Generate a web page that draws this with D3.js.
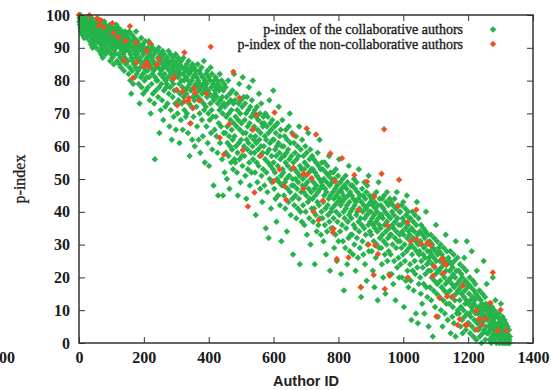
<!DOCTYPE html>
<html><head><meta charset="utf-8">
<script src="https://cdn.jsdelivr.net/npm/d3@7"></script>
<style>body{margin:0;background:#fff}</style>
</head><body>
<svg id="c" width="553" height="390"></svg>
<script>
// p-index of the collaborative authors, one value per Author ID (index = ID)
const greenP = [
100,98,99,97,100,96,98,95,99,97,94,98,96,99,95,97,93,98,96,94,99,97,95,98,93,96,99,94,97,95,
97,99,94,96,92,98,95,91,97,93,99,96,90,94,98,92,95,97,91,96,93,98,94,90,97,95,92,99,93,96,
95,92,97,89,94,98,91,96,88,93,97,90,95,87,92,96,94,89,98,91,93,97,88,95,90,94,92,96,89,93,
93,96,89,94,91,97,86,92,95,88,94,90,96,87,93,91,95,85,92,89,96,93,88,94,90,97,92,86,95,91,
91,94,88,96,85,92,90,95,87,93,84,91,89,95,86,92,94,88,90,83,93,87,95,89,91,85,94,90,86,92,
90,86,93,82,89,95,84,91,80,88,92,76,87,94,83,90,86,79,92,85,89,93,81,88,91,84,95,87,82,90,
88,92,83,89,79,91,86,73,90,84,87,81,93,78,89,85,91,82,76,88,84,90,80,86,92,83,77,89,85,81,
87,83,90,78,86,92,81,88,74,85,89,70,84,91,79,87,82,90,76,86,83,88,73,85,56,81,89,77,84,80,
85,89,80,87,75,84,90,78,64,86,82,88,71,83,79,87,74,85,89,81,68,84,77,88,82,86,72,80,85,78,
84,79,87,73,86,81,89,76,83,66,85,78,88,71,82,86,62,80,84,75,87,79,69,83,77,85,81,73,88,65,
82,86,77,84,70,81,87,74,83,79,61,85,76,82,68,86,80,73,84,78,65,82,87,75,80,71,84,77,83,69,
81,76,85,70,83,78,64,80,86,73,82,57,79,84,67,77,83,72,80,62,85,75,81,69,78,84,74,60,82,76,
79,83,72,81,66,78,85,75,80,62,77,83,70,79,58,82,74,78,84,68,76,81,63,79,73,86,71,77,55,80,
78,72,82,66,79,75,83,61,77,70,81,54,76,68,80,73,84,64,78,71,82,59,75,69,79,48,74,80,65,77,
76,81,69,78,63,75,80,58,73,45,79,67,77,71,82,61,74,78,66,72,80,56,75,70,45,77,64,73,79,52,
72,64,78,58,69,75,50,66,61,73,80,57,70,63,47,76,60,68,74,55,71,65,59,77,62,53,73,67,82,56,
63,74,55,69,60,76,66,52,71,58,45,68,73,61,79,56,65,70,49,74,62,67,57,72,54,81,64,59,75,60,
57,68,73,51,64,70,44,62,75,59,66,53,71,61,78,55,67,48,72,63,58,69,52,74,65,60,80,56,70,62,
66,58,71,52,63,39,69,61,55,72,49,65,59,68,54,76,62,57,70,47,64,60,73,51,67,43,58,66,53,69,
60,67,48,63,56,70,35,62,52,66,58,46,69,55,64,32,59,74,50,61,67,54,41,65,57,49,68,62,53,77,
55,62,47,66,52,59,44,64,57,37,60,50,67,54,45,61,72,49,58,63,42,56,65,51,31,60,48,68,53,57,
52,60,45,57,63,49,41,55,65,50,58,34,62,47,54,59,43,66,51,56,70,46,61,39,53,57,48,64,44,50,
27,55,48,61,42,53,58,45,50,63,38,56,47,52,60,41,49,57,44,66,51,24,54,40,59,46,53,37,62,48,
50,42,57,46,53,36,55,48,60,40,51,45,58,33,49,54,43,64,47,52,38,56,44,59,30,50,46,53,41,57,
44,53,37,49,56,41,47,24,52,45,39,55,48,34,51,43,58,46,36,54,42,50,62,38,47,53,33,49,40,55,
48,38,53,43,31,50,45,55,36,47,41,52,27,46,49,34,54,42,39,51,44,57,37,48,22,45,52,40,35,50,
41,49,35,46,52,38,44,29,50,42,47,33,53,40,45,25,48,37,43,51,31,46,56,39,44,34,49,42,21,47,
46,36,43,50,31,45,40,16,48,38,44,29,51,41,35,47,42,24,49,37,45,32,54,39,43,28,46,40,33,48,
38,45,33,48,41,27,44,36,50,30,42,47,35,22,43,39,49,32,40,46,26,44,37,53,34,41,29,45,38,17,
14,43,36,47,31,40,45,27,42,35,49,38,24,44,33,41,46,19,39,48,30,42,36,51,28,40,45,34,37,43,
40,33,44,28,38,42,22,36,45,31,39,17,43,35,41,26,37,46,30,40,34,13,42,38,49,29,36,44,32,39,
35,42,29,39,24,44,33,38,20,41,31,45,36,27,40,15,34,43,30,37,46,25,39,32,42,28,35,21,44,33,
38,27,43,33,21,40,36,30,42,18,35,39,25,44,32,37,13,41,29,34,46,23,38,31,42,26,36,20,40,33,
31,40,24,36,29,42,20,34,38,27,43,33,11,37,30,25,41,35,19,39,28,45,32,22,36,40,17,34,29,38,
33,24,38,19,30,7,35,27,40,22,32,37,16,29,34,25,39,21,31,9,36,28,43,23,33,6,30,38,18,27,
28,34,20,31,15,36,25,30,12,33,23,27,35,18,29,9,32,26,21,34,40,17,30,24,14,28,33,22,5,26,
25,31,17,28,22,33,13,27,20,30,24,2,29,16,26,32,19,23,11,28,21,36,25,15,31,18,27,8,22,29,
22,28,14,25,19,30,10,23,17,27,21,5,26,13,24,29,16,20,9,25,18,33,22,12,28,15,24,7,19,26,
19,25,12,22,16,28,3,20,14,24,18,8,23,11,21,27,6,17,25,13,20,2,31,15,22,9,18,26,10,16,
16,22,9,19,13,24,5,17,11,21,15,7,20,3,18,23,10,14,26,8,16,12,19,4,22,13,31,9,17,6,
12,18,6,15,9,20,3,13,8,17,11,28,5,14,10,19,2,12,16,7,13,4,18,9,15,1,11,22,6,14,
9,14,4,11,7,16,2,10,5,13,8,0,12,6,15,3,9,11,25,4,10,7,14,1,8,12,5,18,3,10,
7,11,3,9,5,12,1,8,4,10,6,0,9,2,11,5,20,7,3,8,1,10,4,6,13,2,8,0,5,9,
5,8,2,6,3,9,0,5,1,7,4,12,2,6,0,3,8,1,5,2,0,4,7,1,3,0,6,2,1,4,
3,0,5,1,2,0,4,1,0,2
];

// p-index of the non-collaborative authors: [Author ID, p-index]
const redPoints = [
[0,100],[32,99.9],[55,98.9],[68,98.4],[60,96.8],[76,96.3],[103,97.5],[157,96.6],[106,94.5],[122,93.2],
[143,92.1],[176,91.6],[219,91.3],[209,89.1],[325,88.6],[139,86.1],[178,85.5],[209,85.5],[247,86.4],[166,80.8],
[200,84.3],[216,84.3],[240,84.8],[294,81.1],[289,80.6],[301,77.2],[320,76.7],[355,77.7],[358,76.2],[339,74.7],
[325,73.7],[337,73.8],[303,72.5],[351,71.6],[343,66.9],[370,73.9],[393,76.1],[406,90.3],[434,62.6],[463,66.7],
[447,57.5],[476,82.7],[495,74.8],[548,69.5],[603,70.3],[538,65.2],[661,63.4],[702,65.4],[731,63.6],[941,65.2],
[505,58.8],[561,57.1],[775,57.8],[811,56.3],[618,53],[661,53.4],[692,51.5],[704,51.5],[718,50.2],[849,51.2],
[600,49.3],[790,49.3],[888,49.2],[634,47.8],[692,47.1],[541,45.9],[639,43.7],[752,43.4],[911,44.7],[521,41.6],
[723,40],[862,40.6],[739,37.5],[785,34.8],[783,33.7],[893,30],[913,29.7],[922,27.1],[795,25.6],[831,26.1],
[909,20.7],[869,17],[943,16.5],[933,51.6],[987,49.8],[983,41.6],[1040,40.6],[952,35.8],[1013,36.8],[1040,31.7],
[1022,31],[1055,30.2],[1075,30.7],[1085,29.7],[1119,25.8],[1124,24.6],[1132,23.8],[1095,23.4],[1124,21.3],[1092,20.5],
[958,20.5],[1014,20],[1276,21.5],[1184,17.5],[1269,12.2],[1135,14.2],[1153,14.2],[1112,13.7],[1225,9.8],[1233,7.3],
[1253,7.5],[1300,10.1],[1102,8.1],[1174,7.3],[1168,5.5],[1191,5.5],[1197,5.5],[1227,4.1],[1242,5.6],[1291,3.8],
[1318,3.8]
];

const xTicks = [0,200,400,600,800,1000,1200,1400];
const yTicks = [0,10,20,30,40,50,60,70,80,90,100];
const seriesNames = ["p-index of the collaborative authors","p-index of the non-collaborative authors"];
const seriesColors = ["#26b34b","#f15025"];
const xTitle = "Author ID";
const yTitle = "p-index";
const strayLabel = "00";

const svg = d3.select("#c");
const x = d3.scaleLinear().domain([0,1400]).range([79,533]);
const y = d3.scaleLinear().domain([0,100]).range([343,15]);

const serif = "'Liberation Serif','Times New Roman',serif";
const sym = d3.symbol().type(d3.symbolSquare).size(21);

// points
svg.append("g").selectAll("path").data(greenP).enter().append("path")
  .attr("d", sym)
  .attr("transform", (d,i) => `translate(${x(i)},${y(d)}) rotate(45)`)
  .attr("fill", seriesColors[0]);

svg.append("g").selectAll("path").data(redPoints).enter().append("path")
  .attr("d", sym)
  .attr("transform", d => `translate(${x(d[0])},${y(d[1])}) rotate(45)`)
  .attr("fill", seriesColors[1]);

// axes
function styleAxis(g) {
  g.select(".domain").remove();
  g.selectAll(".tick line").attr("stroke", "#333").attr("stroke-width", 1);
  g.selectAll(".tick text").attr("font-family", serif).style("font-weight", "bold")
    .attr("font-size", 16).attr("fill", "#1a1a1a");
}
const fmt = d3.format("d");
svg.append("g").attr("transform", "translate(0,343)")
  .call(d3.axisBottom(x).tickValues(xTicks).tickFormat(fmt).tickSizeInner(-6).tickSizeOuter(0).tickPadding(9))
  .call(styleAxis);
svg.append("g").attr("transform", "translate(79,0)")
  .call(d3.axisLeft(y).tickValues(yTicks).tickFormat(fmt).tickSizeInner(-6).tickSizeOuter(0).tickPadding(9))
  .call(styleAxis);
svg.append("g").attr("transform", "translate(0,15)")
  .call(d3.axisTop(x).tickValues(xTicks).tickSizeInner(-6).tickSizeOuter(0).tickFormat(""))
  .call(styleAxis);
svg.append("g").attr("transform", "translate(533,0)")
  .call(d3.axisRight(y).tickValues(yTicks).tickSizeInner(-6).tickSizeOuter(0).tickFormat(""))
  .call(styleAxis);

svg.append("rect").attr("x", 79).attr("y", 15).attr("width", 454).attr("height", 328)
  .attr("fill", "none").attr("stroke", "#333").attr("stroke-width", 1.5);

// stray clipped tick label at far left
svg.append("text").attr("x", 15).attr("y", 363).attr("text-anchor", "end")
  .attr("font-family", serif).style("font-weight", "bold").attr("font-size", 16).attr("fill", "#1a1a1a")
  .text(strayLabel);

// titles
svg.append("text").attr("x", 306).attr("y", 386).attr("text-anchor", "middle")
  .attr("font-family", "'Liberation Sans',Arial,sans-serif").style("font-weight", "bold")
  .attr("font-size", 14.5).attr("fill", "#222").text(xTitle);
svg.append("text").attr("transform", "translate(25,179) rotate(-90)").attr("text-anchor", "middle")
  .attr("font-family", serif).attr("font-size", 16).attr("fill", "#222")
  .attr("stroke", "#222").attr("stroke-width", 0.3).text(yTitle);

// legend
const leg = svg.append("g");
seriesNames.forEach((name, i) => {
  const yy = 29.5 + i * 14.5;
  leg.append("text").attr("x", 463).attr("y", yy + 4.5).attr("text-anchor", "end")
    .attr("font-family", serif).attr("font-size", 14).attr("fill", "#222")
    .attr("stroke", "#222").attr("stroke-width", 0.35).text(name);
  leg.append("path").attr("d", sym).attr("transform", `translate(493,${yy}) rotate(45)`)
    .attr("fill", seriesColors[i]);
});
</script>
</body></html>
